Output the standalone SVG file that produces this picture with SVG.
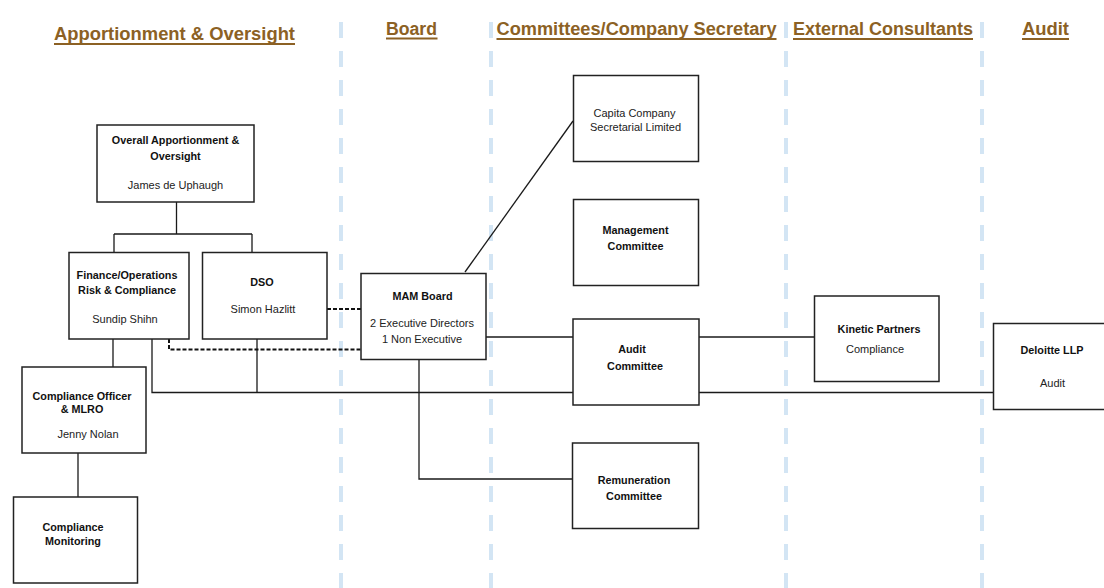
<svg xmlns="http://www.w3.org/2000/svg" width="1104" height="588" viewBox="0 0 1104 588">
  <style>
    .hdr { font-family: "Liberation Sans", Arial, sans-serif; font-size: 18px; font-weight: bold; fill: #8c6124; }
    .uline { stroke: #8c6124; stroke-width: 2; }
    .divider { stroke: #d3e5f4; stroke-width: 4; stroke-dasharray: 16 13; fill: none; }
    .box { fill: #ffffff; stroke: #222222; stroke-width: 1.5; }
    .b { font-family: "Liberation Sans", Arial, sans-serif; font-size: 10.8px; font-weight: bold; fill: #111111; text-anchor: middle; }
    .r { font-family: "Liberation Sans", Arial, sans-serif; font-size: 11px; fill: #222222; text-anchor: middle; }
    .conn { stroke: #1a1a1a; stroke-width: 1.3; fill: none; }
    .dash { stroke: #111111; stroke-width: 2; stroke-dasharray: 4 2; fill: none; }
  </style>

  <rect x="0" y="0" width="1104" height="588" fill="#ffffff"/>

  <!-- column dividers -->
  <g id="dividers">
    <line class="divider" x1="341" y1="22" x2="341" y2="588"/>
    <line class="divider" x1="491" y1="22" x2="491" y2="588"/>
    <line class="divider" x1="786" y1="22" x2="786" y2="588"/>
    <line class="divider" x1="982" y1="22" x2="982" y2="588"/>
  </g>

  <!-- column headings -->
  <g id="headings">
    <text class="hdr" x="54" y="40" textLength="241" lengthAdjust="spacingAndGlyphs">Apportionment &amp; Oversight</text>
    <line class="uline" x1="54" y1="44" x2="295" y2="44"/>
    <text class="hdr" x="386" y="35" textLength="51" lengthAdjust="spacingAndGlyphs">Board</text>
    <line class="uline" x1="386" y1="38.5" x2="437.5" y2="38.5"/>
    <text class="hdr" x="496.5" y="35" textLength="280" lengthAdjust="spacingAndGlyphs">Committees/Company Secretary</text>
    <line class="uline" x1="496.5" y1="39" x2="776.5" y2="39"/>
    <text class="hdr" x="793" y="35" textLength="180" lengthAdjust="spacingAndGlyphs">External Consultants</text>
    <line class="uline" x1="793" y1="39" x2="973" y2="39"/>
    <text class="hdr" x="1022" y="35" textLength="47" lengthAdjust="spacingAndGlyphs">Audit</text>
    <line class="uline" x1="1022" y1="39" x2="1069" y2="39"/>
  </g>

  <!-- connectors -->
  <g id="connectors">
    <path class="conn" d="M176.5 202 V234 M114 234 H252 M114 234 V252.5 M252 234 V252.5"/>
    <path class="conn" d="M113 339 V367"/>
    <path class="conn" d="M152 339 V392.5 H993"/>
    <path class="conn" d="M257 339 V392.5"/>
    <path class="conn" d="M78 453 V497"/>
    <path class="conn" d="M486 337 H573"/>
    <path class="conn" d="M699 337 H814"/>
    <path class="conn" d="M419 359 V479 H572"/>
    <path class="conn" d="M465 272 L573 121"/>
    <path class="dash" d="M327 309 H361"/>
    <path class="dash" d="M169 339 V349.5 H361"/>
  </g>

  <g id="overall">
    <rect class="box" x="97" y="125" width="157" height="77"/>
    <text class="b" x="175.5" y="144">Overall Apportionment &amp;</text>
    <text class="b" x="175.5" y="159.5">Oversight</text>
    <text class="r" x="175.5" y="189">James de Uphaugh</text>
  </g>

  <g id="finance">
    <rect class="box" x="69" y="252.5" width="120" height="86.5"/>
    <text class="b" x="127" y="278.5">Finance/Operations</text>
    <text class="b" x="127" y="294">Risk &amp; Compliance</text>
    <text class="r" x="125" y="323">Sundip Shihn</text>
  </g>

  <g id="dso">
    <rect class="box" x="202.5" y="252.5" width="124.5" height="86.5"/>
    <text class="b" x="262" y="286">DSO</text>
    <text class="r" x="263" y="313">Simon Hazlitt</text>
  </g>

  <g id="compliance-officer">
    <rect class="box" x="22" y="367" width="124" height="86"/>
    <text class="b" x="82" y="399.5">Compliance Officer</text>
    <text class="b" x="82" y="412.5">&amp; MLRO</text>
    <text class="r" x="88" y="437.5">Jenny Nolan</text>
  </g>

  <g id="compliance-monitoring">
    <rect class="box" x="13.5" y="497" width="124" height="86"/>
    <text class="b" x="73" y="530.5">Compliance</text>
    <text class="b" x="73" y="544.5">Monitoring</text>
  </g>

  <g id="mam-board">
    <rect class="box" x="361" y="273.5" width="125" height="86"/>
    <text class="b" x="422.5" y="299.5">MAM Board</text>
    <text class="r" x="422" y="327">2 Executive  Directors</text>
    <text class="r" x="422" y="343">1 Non Executive</text>
  </g>

  <g id="capita">
    <rect class="box" x="573.5" y="75.5" width="125" height="86"/>
    <text class="r" x="634.5" y="116.5">Capita Company</text>
    <text class="r" x="635.5" y="130.5">Secretarial  Limited</text>
  </g>

  <g id="management-committee">
    <rect class="box" x="573.5" y="199.5" width="125" height="86"/>
    <text class="b" x="635.5" y="233.5">Management</text>
    <text class="b" x="635.5" y="249.5">Committee</text>
  </g>

  <g id="audit-committee">
    <rect class="box" x="573" y="319" width="126" height="86"/>
    <text class="b" x="632" y="352.5">Audit</text>
    <text class="b" x="635" y="369.5">Committee</text>
  </g>

  <g id="remuneration-committee">
    <rect class="box" x="572.5" y="443" width="126" height="85.5"/>
    <text class="b" x="634" y="483.5">Remuneration</text>
    <text class="b" x="634" y="500">Committee</text>
  </g>

  <g id="kinetic-partners">
    <rect class="box" x="814.5" y="296" width="124.5" height="85.5"/>
    <text class="b" x="879" y="332.5">Kinetic Partners</text>
    <text class="r" x="875" y="353">Compliance</text>
  </g>

  <g id="deloitte">
    <rect class="box" x="993.5" y="323.5" width="124" height="86"/>
    <text class="b" x="1052" y="353.5">Deloitte LLP</text>
    <text class="r" x="1052.5" y="386.5">Audit</text>
  </g>
</svg>
